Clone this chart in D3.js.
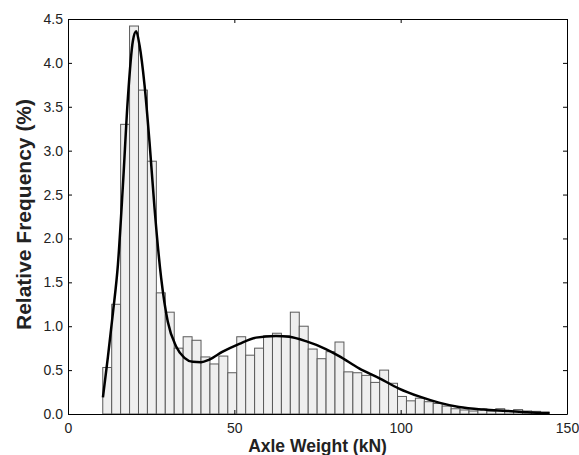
<!DOCTYPE html>
<html>
<head>
<meta charset="utf-8">
<script src="https://cdn.jsdelivr.net/npm/d3@7"></script>
<style>
  body { margin: 0; background: #fff; }
  svg text { font-family: "Liberation Sans", Arial, sans-serif; fill: #222; }
</style>
</head>
<body>
<div id="chart"></div>
<script>
var margin = {top: 19, right: 12, bottom: 41, left: 68},
    width = 579 - margin.left - margin.right,
    height = 455 - margin.top - margin.bottom;

// histogram: relative frequency (%) per bin, bins start at 10.45 kN, 2.685 kN wide
var binStart = 10.45, binWidth = 2.685;
var freq = [0.53, 1.25, 3.30, 4.42, 3.69, 2.88, 1.38, 1.16, 0.75, 0.88,
            0.84, 0.65, 0.57, 0.66, 0.47, 0.88, 0.67, 0.75, 0.89, 0.92,
            0.89, 1.16, 1.00, 0.74, 0.63, 0.71, 0.82, 0.48, 0.47, 0.44,
            0.36, 0.50, 0.35, 0.20, 0.15, 0.18, 0.14, 0.12, 0.09, 0.06,
            0.046, 0.034, 0.057, 0.034, 0.06, 0.03, 0.05, 0.034, 0.03, 0.02];

// fitted density curve
var curveX = [10.5, 12, 13.5, 15, 16.5, 18, 19.5, 20.5, 21.5, 23, 24.5, 26, 28, 30, 32.5,
              35, 37.5, 40, 42.5, 46.5, 51.5, 56.5, 62.5, 66.5, 71.5, 77.5, 81.5, 87.5,
              93.5, 99.5, 105.5, 111.5, 117.5, 125, 132, 138, 144.7];
var curveY = [0.19, 0.65, 1.15, 1.7, 2.6, 3.6, 4.25, 4.36, 4.2, 3.75, 3.1, 2.35, 1.55, 1.05, 0.77,
              0.64, 0.595, 0.59, 0.62, 0.71, 0.80, 0.87, 0.89, 0.88, 0.83, 0.74, 0.66, 0.52,
              0.41, 0.29, 0.20, 0.13, 0.08, 0.05, 0.035, 0.02, 0.01];

var xTicks = [0, 50, 100, 150];
var yTicks = [0, 0.5, 1, 1.5, 2, 2.5, 3, 3.5, 4, 4.5];

var svg = d3.select("#chart")
  .append("svg")
    .attr("width", 579)
    .attr("height", 455)
  .append("g")
    .attr("transform", "translate(" + margin.left + "," + margin.top + ")");

var x = d3.scaleLinear().domain([0, 150]).range([0, width]);
var y = d3.scaleLinear().domain([0, 4.5]).range([height, 0]);

svg.append("g")
  .selectAll("rect")
  .data(freq)
  .enter()
  .append("rect")
    .attr("x", function (d, i) { return x(binStart + i * binWidth); })
    .attr("width", function (d, i) { return x(binStart + (i + 1) * binWidth) - x(binStart + i * binWidth); })
    .attr("y", function (d) { return y(d); })
    .attr("height", function (d) { return y(0) - y(d); })
    .style("fill", "#efefef")
    .style("stroke", "#5a5a5a")
    .style("stroke-width", 1);

var line = d3.line()
  .x(function (d, i) { return x(curveX[i]); })
  .y(function (d) { return y(d); })
  .curve(d3.curveMonotoneX);

svg.append("path")
  .datum(curveY)
  .attr("d", line)
  .style("fill", "none")
  .style("stroke", "#000")
  .style("stroke-width", 2.5);

// axes, ticks inward on all four sides
var tl = -4;
svg.append("g")
  .attr("transform", "translate(0," + height + ")")
  .call(d3.axisBottom(x).tickValues(xTicks).tickSizeInner(tl).tickSizeOuter(0).tickPadding(9));
svg.append("g")
  .call(d3.axisTop(x).tickValues(xTicks).tickSizeInner(tl).tickSizeOuter(0).tickFormat(""));
svg.append("g")
  .call(d3.axisLeft(y).tickValues(yTicks).tickSizeInner(tl).tickSizeOuter(0).tickPadding(5)
    .tickFormat(d3.format(".1f")));
svg.append("g")
  .attr("transform", "translate(" + width + ",0)")
  .call(d3.axisRight(y).tickValues(yTicks).tickSizeInner(tl).tickSizeOuter(0).tickFormat(""));

svg.selectAll(".domain").style("stroke", "#000");
svg.selectAll(".tick line").style("stroke", "#000");
svg.selectAll(".tick text").style("font-size", "14px").style("fill", "#222");

svg.append("text")
  .attr("x", width / 2)
  .attr("y", height + 38)
  .attr("text-anchor", "middle")
  .style("font-size", "17.5px")
  .style("font-weight", "bold")
  .text("Axle Weight (kN)");

svg.append("text")
  .attr("transform", "rotate(-90)")
  .attr("x", -height / 2 + 2)
  .attr("y", -37)
  .attr("text-anchor", "middle")
  .style("font-size", "21px")
  .style("font-weight", "bold")
  .text("Relative Frequency (%)");
</script>
</body>
</html>
